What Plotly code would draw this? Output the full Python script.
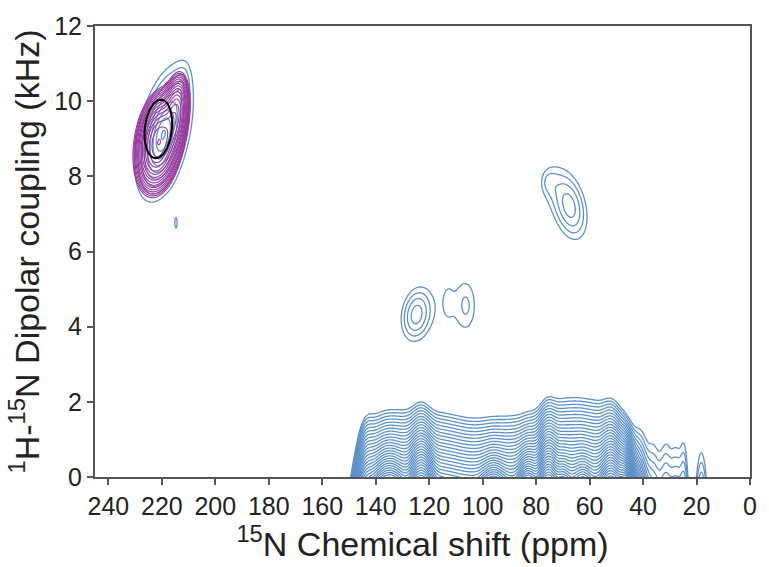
import numpy as np
import plotly.graph_objects as go

# ---------------- axes ----------------
x_range = [245, 0]
y_range = [0, 12]
x_tick_vals = [240, 220, 200, 180, 160, 140, 120, 100, 80, 60, 40, 20, 0]
y_tick_vals = [0, 2, 4, 6, 8, 10, 12]

# ---------------- blue spectrum: ridge near 0 kHz ----------------
# each component: centre (ppm), width (ppm), decay along the dipolar axis (kHz), log amplitude
ridge_ppm = [143.5, 140, 135, 130, 125, 120, 115, 110, 105, 100, 95, 90, 85, 80, 75, 70, 65, 60, 55, 50, 45,
             123, 96, 83, 75.5, 70, 62.5, 52, 47, 135,
             40.5, 36, 31.5, 27.5, 24.5, 18.2]
ridge_width = [2.0, 3.5, 3.5, 3.5, 3.5, 3.5, 3.5, 3.5, 3.5, 3.5, 3.5, 3.5, 3.5, 3.5, 3.5, 3.5, 3.5, 3.5, 3.5, 3.5, 3.0,
               2.3, 2.5, 2.0, 2.0, 1.5, 1.8, 2.2, 1.5, 3.0,
               2.0, 2.0, 1.8, 1.8, 1.2, 1.85]
ridge_decay = [0.45] * 21 + [0.32, 0.22, 0.25, 0.32, 0.22, 0.22, 0.32, 0.25, 0.25,
                             1.25, 1.25, 1.25, 1.25, 1.25, 1.3]
ridge_logamp = [3.0, 3.26, 3.35, 3.40, 3.40, 3.35, 3.26, 3.08, 2.88, 2.93, 3.0, 3.04, 3.11, 3.26, 3.88, 4.11,
                4.17, 4.04, 3.88, 3.66, 2.4,
                5.3, 4.0, 4.6, 5.5, 4.4, 4.4, 5.4, 4.8, 4.6,
                0.55, 0.55, 0.55, 0.5, 0.45, 0.5]

# ---------------- blue spectrum: isolated cross peaks ----------------
# centre (ppm, kHz), widths (ppm, kHz), shear (ppm per kHz), log amplitude
peak_ppm = [124.8, 106.0, 113.0, 67.5, 75.5, 219.5, 213.0, 214.7]
peak_khz = [4.32, 4.55, 4.65, 7.2, 7.85, 9.1, 10.3, 6.74]
peak_wppm = [5.3, 5.5, 2.0, 6.0, 3.5, 4.8, 2.2, 0.9]
peak_wkhz = [0.66, 1.0, 0.45, 0.85, 0.4, 0.88, 0.5, 0.3]
peak_shear = [-1.5, 0.0, 0.0, 2.5, 0.0, -2.5, -2.0, 0.0]
peak_logamp = [0.66, 0.05, -0.8, 0.66, -0.45, 1.6, -0.3, -0.33]

# ---------------- purple spectrum ----------------
purple_ppm = [221.2, 214.6]
purple_khz = [8.9, 9.7]
purple_wppm = [3.8, 2.3]
purple_wkhz = [0.6, 0.5]
purple_shear = [-1.6, -1.2]
purple_logamp = [3.0, 2.3]

# ---------------- reference ellipse ----------------
ellipse_ppm = 221.3
ellipse_khz = 9.26
ellipse_rppm = 5.1
ellipse_rkhz = 0.78
ellipse_shear = -1.2

BLUE = "rgb(92,145,200)"
PURPLE = "rgb(155,55,155)"
AXIS = "#555555"
FONT = "Liberation Sans, Arial, sans-serif"


def ridge_field(xg, yg):
    X, Y = np.meshgrid(xg, yg)
    tot = np.zeros_like(X)
    for c, w, d, la in zip(ridge_ppm, ridge_width, ridge_decay, ridge_logamp):
        tot += np.exp(la - (X - c) ** 2 / (2 * w ** 2) - Y / d)
    return np.log(tot + 1e-7)


def lorentz_field(xg, yg):
    X, Y = np.meshgrid(xg, yg)
    tot = np.zeros_like(X)
    for c, h, wx, wy, k, la in zip(peak_ppm, peak_khz, peak_wppm, peak_wkhz, peak_shear, peak_logamp):
        u = (X - c - k * (Y - h)) / wx
        v = (Y - h) / wy
        tot += np.exp(la) / (1 + u ** 2 + v ** 2)
    return np.log(tot + 1e-7)


def gauss_field(xg, yg):
    X, Y = np.meshgrid(xg, yg)
    tot = np.zeros_like(X)
    for c, h, wx, wy, k, la in zip(purple_ppm, purple_khz, purple_wppm, purple_wkhz, purple_shear, purple_logamp):
        u = (X - c - k * (Y - h)) / wx
        v = (Y - h) / wy
        tot += np.exp(la - 0.5 * (u ** 2 + v ** 2))
    return np.log(tot + 1e-7)


def contour(xg, yg, z, color, width):
    return go.Contour(
        x=xg, y=yg, z=np.round(z, 3),
        contours=dict(coloring="lines", start=0, end=8, size=0.2),
        colorscale=[[0, color], [1, color]], showscale=False,
        line=dict(width=width, smoothing=1.0), hoverinfo="skip",
    )


fig = go.Figure()

xr = np.arange(10, 155.01, 0.2)
yr = np.arange(0, 2.61, 0.02)
fig.add_trace(contour(xr, yr, ridge_field(xr, yr), BLUE, 1.3))

xm = np.arange(55, 135.01, 0.25)
ym = np.arange(3, 9.51, 0.03)
fig.add_trace(contour(xm, ym, lorentz_field(xm, ym), BLUE, 1.3))

xp = np.arange(200, 236.01, 0.15)
yp = np.arange(6, 11.81, 0.025)
fig.add_trace(contour(xp, yp, lorentz_field(xp, yp), BLUE, 1.3))
fig.add_trace(contour(xp, yp, gauss_field(xp, yp), PURPLE, 1.1))

t = np.linspace(0, 2 * np.pi, 200)
ex = ellipse_ppm + ellipse_rppm * np.cos(t) + ellipse_shear * ellipse_rkhz * np.sin(t)
ey = ellipse_khz + ellipse_rkhz * np.sin(t)
fig.add_trace(go.Scatter(x=ex, y=ey, mode="lines", line=dict(color="black", width=2),
                         hoverinfo="skip", showlegend=False))

axis_common = dict(
    showline=True, linecolor=AXIS, linewidth=2, mirror=True,
    ticks="outside", ticklen=6, tickwidth=2, tickcolor=AXIS,
    showgrid=False, zeroline=False,
    tickfont=dict(family=FONT, size=25, color="#222222"),
)

fig.update_layout(
    width=769, height=567,
    margin=dict(l=95, r=12, t=23, b=90),
    plot_bgcolor="white", paper_bgcolor="white",
    showlegend=False,
    xaxis=dict(range=x_range, tickvals=x_tick_vals, **axis_common,
               title=dict(text="<sup>15</sup>N Chemical shift (ppm)", standoff=4,
                          font=dict(family=FONT, size=34, color="#222222"))),
    yaxis=dict(range=y_range, tickvals=y_tick_vals, **axis_common,
               title=dict(text="<sup>1</sup>H-<sup>15</sup>N Dipolar coupling (kHz)", standoff=4,
                          font=dict(family=FONT, size=34, color="#222222"))),
)

fig.write_html("out.html")
